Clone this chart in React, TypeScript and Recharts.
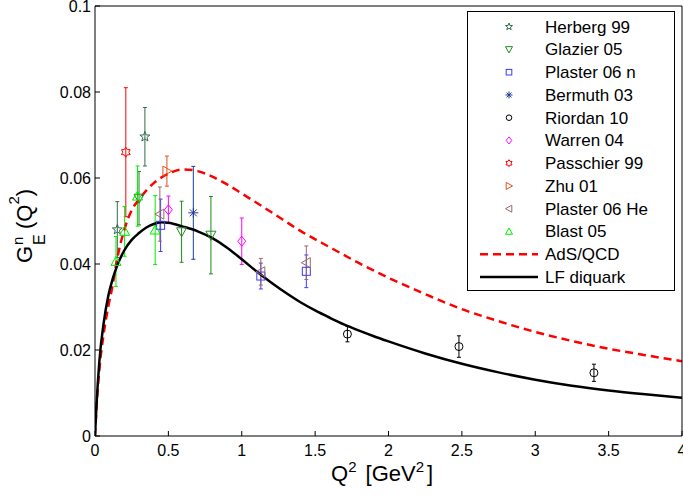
import React from "react"
import {
  ComposedChart,
  XAxis,
  YAxis,
  Scatter,
  Line,
  ErrorBar,
  Legend,
  Label
} from "recharts"

type Pt = { x: number; y: number; err: number }

// measured points (Q2, GEn, error)
const herberg99: Pt[] = [
  { x: 0.152, y: 0.048, err: 0.0065 },
  { x: 0.34, y: 0.0696, err: 0.0068 }
]
const glazier05: Pt[] = [
  { x: 0.3, y: 0.0553, err: 0.0062 },
  { x: 0.59, y: 0.0475, err: 0.0071 },
  { x: 0.79, y: 0.0467, err: 0.009 }
]
const plaster06n: Pt[] = [
  { x: 0.447, y: 0.049, err: 0.0061 },
  { x: 1.13, y: 0.0372, err: 0.003 },
  { x: 1.44, y: 0.0383, err: 0.0038 }
]
const bermuth03: Pt[] = [{ x: 0.67, y: 0.0519, err: 0.0108 }]
const riordan10: Pt[] = [
  { x: 1.72, y: 0.0237, err: 0.0018 },
  { x: 2.48, y: 0.0208, err: 0.0025 },
  { x: 3.4, y: 0.0147, err: 0.002 }
]
const warren04: Pt[] = [
  { x: 0.5, y: 0.0526, err: 0.0032 },
  { x: 1.0, y: 0.0453, err: 0.0054 }
]
const passchier99: Pt[] = [{ x: 0.21, y: 0.066, err: 0.015 }]
const zhu01: Pt[] = [{ x: 0.49, y: 0.0616, err: 0.0035 }]
const plaster06He: Pt[] = [
  { x: 0.442, y: 0.0516, err: 0.0063 },
  { x: 1.13, y: 0.0382, err: 0.0031 },
  { x: 1.44, y: 0.0403, err: 0.0039 }
]
const blast05: Pt[] = [
  { x: 0.143, y: 0.0406, err: 0.0058 },
  { x: 0.202, y: 0.0476, err: 0.0058 },
  { x: 0.29, y: 0.0558, err: 0.007 },
  { x: 0.41, y: 0.0479, err: 0.008 }
]

// model curves
const adsQ2 = [0, 0.01, 0.03, 0.06, 0.09, 0.12, 0.15, 0.2, 0.25, 0.3, 0.4, 0.5, 0.6, 0.7, 0.8, 0.9, 1.0, 1.2, 1.4, 1.6, 1.8, 2.0, 2.25, 2.5, 2.75, 3.0, 3.25, 3.5, 3.75, 4.0]
const adsGE = [0, 0.0065, 0.0155, 0.024, 0.03, 0.035, 0.041, 0.048, 0.0525, 0.055, 0.0588, 0.061, 0.062, 0.0616, 0.0603, 0.0585, 0.0564, 0.0521, 0.0477, 0.0439, 0.0402, 0.0368, 0.033, 0.0295, 0.0267, 0.0242, 0.0221, 0.0203, 0.0188, 0.0174]

const lfQ2 = [0, 0.01, 0.03, 0.06, 0.09, 0.12, 0.15, 0.2, 0.25, 0.3, 0.35, 0.4, 0.45, 0.5, 0.6, 0.7, 0.8, 0.9, 1.0, 1.1, 1.2, 1.3, 1.4, 1.5, 1.6, 1.7, 1.8, 1.9, 2.0, 2.25, 2.5, 2.75, 3.0, 3.25, 3.5, 3.75, 4.0]
const lfGE = [0, 0.007, 0.0175, 0.0265, 0.0325, 0.0365, 0.0395, 0.0432, 0.0456, 0.0472, 0.0485, 0.0493, 0.0497, 0.0496, 0.0487, 0.0476, 0.046, 0.0438, 0.0411, 0.0383, 0.0357, 0.0333, 0.0311, 0.0292, 0.0275, 0.0259, 0.0245, 0.0232, 0.022, 0.0192, 0.0168, 0.0148, 0.0131, 0.0117, 0.0106, 0.0097, 0.0089]

const xTicks = [0, 0.5, 1, 1.5, 2, 2.5, 3, 3.5, 4]
const yTicks = [0, 0.02, 0.04, 0.06, 0.08, 0.1]

const adsData = adsQ2.map((x, i) => ({ x, y: adsGE[i] }))
const lfData = lfQ2.map((x, i) => ({ x, y: lfGE[i] }))

type Kind = "star" | "tridown" | "square" | "asterisk" | "circle" | "diamond" | "hexagram" | "triright" | "trileft" | "triup"

const series: { name: string; data: Pt[]; color: string; kind: Kind }[] = [
  { name: "Herberg 99", data: herberg99, color: "#336b4d", kind: "star" },
  { name: "Glazier 05", data: glazier05, color: "#1f8a1f", kind: "tridown" },
  { name: "Plaster 06 n", data: plaster06n, color: "#3b3bff", kind: "square" },
  { name: "Bermuth 03", data: bermuth03, color: "#203c96", kind: "asterisk" },
  { name: "Riordan 10", data: riordan10, color: "#000000", kind: "circle" },
  { name: "Warren 04", data: warren04, color: "#ff00ff", kind: "diamond" },
  { name: "Passchier 99", data: passchier99, color: "#ff0000", kind: "hexagram" },
  { name: "Zhu 01", data: zhu01, color: "#e0501e", kind: "triright" },
  { name: "Plaster 06 He", data: plaster06He, color: "#9a6a6a", kind: "trileft" },
  { name: "Blast 05", data: blast05, color: "#00ee00", kind: "triup" }
]

const FONT = "'Liberation Sans', Arial, Helvetica, sans-serif"

function starPts(cx: number, cy: number, r: number, n: number, inner: number) {
  const pts: string[] = []
  for (let k = 0; k < n * 2; k++) {
    const a = (-90 + (k * 180) / n) * Math.PI / 180
    const rr = k % 2 === 0 ? r : r * inner
    pts.push(`${cx + rr * Math.cos(a)},${cy + rr * Math.sin(a)}`)
  }
  return pts.join(" ")
}

function Marker({ kind, cx, cy, s, color }: { kind: Kind; cx: number; cy: number; s: number; color: string }) {
  const r = s / 2
  const p = { fill: "none", stroke: color, strokeWidth: 1 }
  switch (kind) {
    case "star":
      return <polygon points={starPts(cx, cy, r * 1.05, 5, 0.42)} {...p} />
    case "hexagram":
      return <polygon points={starPts(cx, cy, r, 6, 0.6)} {...p} />
    case "square":
      return <rect x={cx - r * 0.8} y={cy - r * 0.8} width={r * 1.6} height={r * 1.6} {...p} />
    case "circle":
      return <circle cx={cx} cy={cy} r={r * 0.8} {...p} />
    case "diamond":
      return <polygon points={`${cx},${cy - r} ${cx + r * 0.8},${cy} ${cx},${cy + r} ${cx - r * 0.8},${cy}`} {...p} />
    case "triup":
      return <polygon points={`${cx},${cy - r} ${cx + r},${cy + r * 0.8} ${cx - r},${cy + r * 0.8}`} {...p} />
    case "tridown":
      return <polygon points={`${cx},${cy + r} ${cx + r},${cy - r * 0.8} ${cx - r},${cy - r * 0.8}`} {...p} />
    case "triright":
      return <polygon points={`${cx + r},${cy} ${cx - r * 0.8},${cy - r} ${cx - r * 0.8},${cy + r}`} {...p} />
    case "trileft":
      return <polygon points={`${cx - r},${cy} ${cx + r * 0.8},${cy - r} ${cx + r * 0.8},${cy + r}`} {...p} />
    case "asterisk": {
      const d = r * 0.7
      return (
        <g stroke={color} strokeWidth={1}>
          <line x1={cx - r} y1={cy} x2={cx + r} y2={cy} />
          <line x1={cx} y1={cy - r} x2={cx} y2={cy + r} />
          <line x1={cx - d} y1={cy - d} x2={cx + d} y2={cy + d} />
          <line x1={cx - d} y1={cy + d} x2={cx + d} y2={cy - d} />
        </g>
      )
    }
  }
  return null
}

function LegendBox() {
  const rows = [
    ...series.map(s => ({ label: s.name, kind: s.kind as Kind | null, color: s.color, dash: "" })),
    { label: "AdS/QCD", kind: null, color: "#ff0000", dash: "8 5" },
    { label: "LF diquark", kind: null, color: "#000000", dash: "none" }
  ]
  return (
    <svg width={209} height={281} style={{ display: "block" }}>
      <rect x={0.5} y={0.5} width={207} height={279} fill="#fff" stroke="#000" />
      {rows.map((r, i) => {
        const cy = 15.7 + i * 22.75
        return (
          <g key={r.label}>
            {r.kind ? (
              <Marker kind={r.kind} cx={42} cy={cy} s={7} color={r.color} />
            ) : (
              <line x1={13} y1={cy} x2={71} y2={cy} stroke={r.color} strokeWidth={2.5}
                strokeDasharray={r.dash === "none" ? undefined : r.dash} />
            )}
            <text x={78} y={cy + 6} fontSize={17} fontFamily={FONT} fill="#000">{r.label}</text>
          </g>
        )
      })}
    </svg>
  )
}

export default function App() {
  return (
    <div style={{ width: 683, height: 500, position: "relative", background: "#fff" }}>
      <style>{"body{margin:0}"}</style>
      <ComposedChart width={683} height={500} margin={{ top: 5, right: 0, bottom: 0, left: 0 }}
        style={{ fontFamily: FONT }}>
        <XAxis xAxisId="b" dataKey="x" type="number" domain={[0, 4]} ticks={xTicks} interval={0}
          allowDataOverflow height={64} tickSize={-5} tickMargin={14}
          tick={{ fontSize: 16, fill: "#000", fontFamily: FONT }}
          axisLine={{ stroke: "#000" }} tickLine={{ stroke: "#000" }}>
          <Label content={() => (
            <text x={331} y={481} fontSize={22} fontFamily={FONT} fill="#000">
              Q<tspan dy={-9} fontSize={15}>2</tspan>
              <tspan dy={9} dx={3}> [GeV</tspan>
              <tspan dy={-9} fontSize={15}>2</tspan>
              <tspan dy={9} dx={3}>]</tspan>
            </text>
          )} />
        </XAxis>
        <XAxis xAxisId="t" orientation="top" dataKey="x" type="number" domain={[0, 4]} ticks={xTicks}
          interval={0} allowDataOverflow height={1} tickSize={-5} tick={false}
          axisLine={{ stroke: "#000" }} tickLine={{ stroke: "#000" }} />
        <YAxis yAxisId="l" type="number" domain={[0, 0.1]} ticks={yTicks} interval={0}
          allowDataOverflow width={95} tickSize={-5} tickMargin={9}
          tick={{ fontSize: 16, fill: "#000", fontFamily: FONT }}
          axisLine={{ stroke: "#000" }} tickLine={{ stroke: "#000" }}>
          <Label content={() => (
            <g transform="translate(31.7,263) rotate(-90)" fontFamily={FONT} fill="#000">
              <text x={0} y={0} fontSize={22}>G</text>
              <text x={18} y={-9} fontSize={15}>n</text>
              <text x={18} y={13} fontSize={16}>E</text>
              <text x={34} y={0} fontSize={22}>
                (Q<tspan dy={-13} fontSize={15}>2</tspan><tspan dy={13}>)</tspan>
              </text>
            </g>
          )} />
        </YAxis>
        <YAxis yAxisId="r" orientation="right" type="number" domain={[0, 0.1]} ticks={yTicks}
          interval={0} allowDataOverflow width={1} tickSize={-5} tick={false}
          axisLine={{ stroke: "#000" }} tickLine={{ stroke: "#000" }} />

        {series.map(s => (
          <Scatter key={s.name} name={s.name} data={s.data} dataKey="y" xAxisId="b" yAxisId="l"
            isAnimationActive={false}
            shape={(p: any) => <Marker kind={s.kind} cx={p.cx} cy={p.cy} s={10} color={s.color} />}>
            <ErrorBar dataKey="err" direction="y" width={2} stroke={s.color} strokeWidth={1}
              isAnimationActive={false} />
          </Scatter>
        ))}

        <Line data={adsData} dataKey="y" xAxisId="b" yAxisId="l" type="monotone" stroke="#ff0000"
          strokeWidth={2.5} strokeDasharray="8 5" dot={false} activeDot={false} isAnimationActive={false} />
        <Line data={lfData} dataKey="y" xAxisId="b" yAxisId="l" type="monotone" stroke="#000000"
          strokeWidth={2.5} dot={false} activeDot={false} isAnimationActive={false} />

        <Legend layout="horizontal" verticalAlign="middle" align="center" content={() => <LegendBox />}
          wrapperStyle={{ position: "absolute", left: 467, top: 11, width: 209, height: 281 }} />
      </ComposedChart>
    </div>
  )
}
